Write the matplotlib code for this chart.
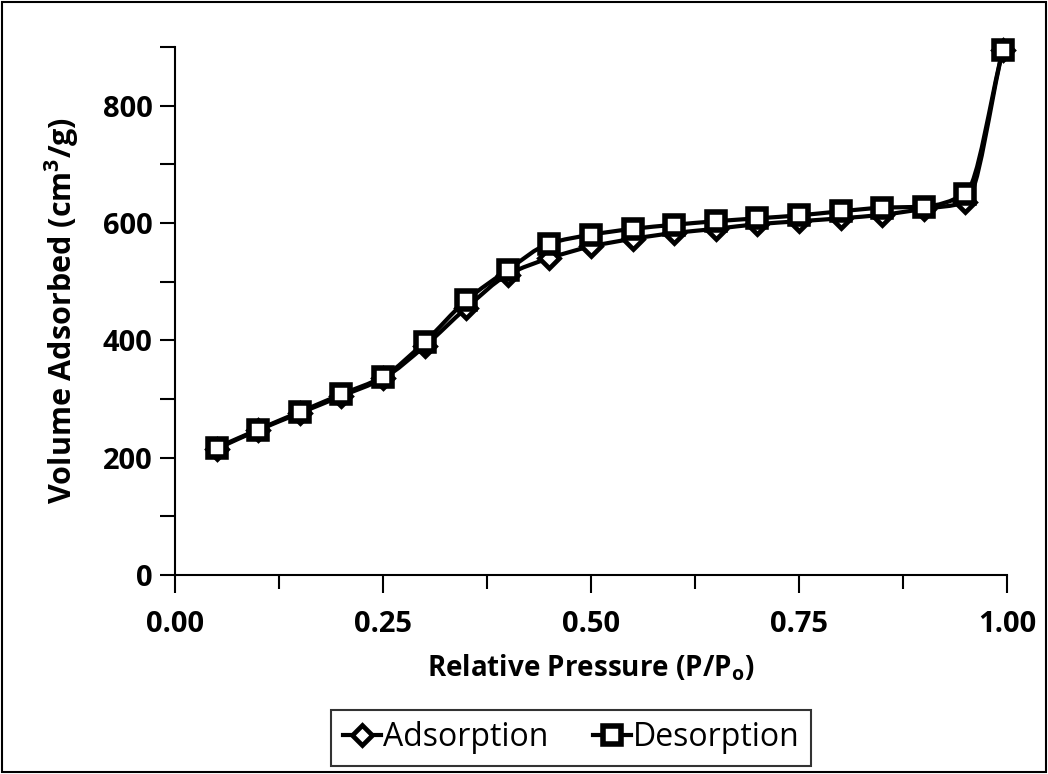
import numpy as np
import matplotlib
matplotlib.use('Agg')
import matplotlib.pyplot as plt
from matplotlib.path import Path
from matplotlib.patches import PathPatch, Rectangle
from matplotlib.lines import Line2D

plt.rcParams['font.family'] = ['Open Sans', 'DejaVu Sans']

# relative pressure
p_rel = [0.05, 0.10, 0.15, 0.20, 0.25, 0.30, 0.35, 0.40, 0.45, 0.50,
         0.55, 0.60, 0.65, 0.70, 0.75, 0.80, 0.85, 0.90, 0.95, 0.995]
adsorption = [215, 247, 276, 305, 335, 390, 455, 512, 540, 560,
              573, 583, 590, 598, 603, 608, 614, 624, 635, 895]
desorption = [217, 248, 278, 308, 338, 397, 468, 520, 565, 580,
              590, 597, 603, 608, 613, 620, 626, 628, 650, 895]


def smooth_path(x, y):
    """smooth line through the points, monotone cubic bezier pieces"""
    x = np.asarray(x, float); y = np.asarray(y, float)
    h = np.diff(x); d = np.diff(y) / h
    m = np.zeros_like(y)
    m[0] = d[0]; m[-1] = d[-1]
    for i in range(1, len(x) - 1):
        if d[i-1] * d[i] > 0:
            w1 = 2*h[i] + h[i-1]; w2 = h[i] + 2*h[i-1]
            m[i] = (w1 + w2) / (w1/d[i-1] + w2/d[i])
    verts = [(x[0], y[0])]
    codes = [Path.MOVETO]
    for i in range(len(x) - 1):
        verts += [(x[i] + h[i]/3, y[i] + m[i]*h[i]/3),
                  (x[i+1] - h[i]/3, y[i+1] - m[i+1]*h[i]/3),
                  (x[i+1], y[i+1])]
        codes += [Path.CURVE4] * 3
    return Path(verts, codes)


fig = plt.figure(figsize=(10.48, 7.74), dpi=100)
ax = fig.add_axes([175/1048, 1-575/774, (1007-175)/1048, (575-47)/774])

for yy in (adsorption, desorption):
    ax.add_patch(PathPatch(smooth_path(p_rel, yy), fc='none', ec='black', lw=3, zorder=2, clip_on=False))

ax.plot(p_rel, adsorption, ls='none', marker='D', ms=10, mfc='white', mec='black', mew=3.4, zorder=3, clip_on=False)
ax.plot(p_rel, desorption, ls='none', marker='s', ms=13, mfc='white', mec='black', mew=4, zorder=4, clip_on=False)

ax.set_xlim(0, 1)
ax.set_ylim(0, 900)
ax.set_xticks([0, 0.25, 0.5, 0.75, 1.0])
ax.set_xticks(np.arange(0.125, 1, 0.25), minor=True)
ax.set_xticklabels(['0.00', '0.25', '0.50', '0.75', '1.00'])
ax.set_yticks([0, 200, 400, 600, 800])
ax.set_yticks([100, 300, 500, 700, 900], minor=True)
ax.tick_params(axis='x', which='major', direction='out', length=13, width=1.5, labelsize=21, pad=12)
ax.tick_params(axis='x', which='minor', direction='out', length=10, width=1.5)
ax.tick_params(axis='y', which='both', direction='out', length=11, width=1.5, labelsize=21, pad=5)
for lab in ax.get_xticklabels() + ax.get_yticklabels():
    lab.set_fontweight('bold')
for s in ('top', 'right'):
    ax.spines[s].set_visible(False)
for s in ('left', 'bottom'):
    ax.spines[s].set_linewidth(1.5)

ax.set_xlabel('Relative Pressure (P/P$_\\mathregular{o}$)', fontsize=20, fontweight='bold', labelpad=10)
ax.set_ylabel('Volume Adsorbed (cm$^\\mathregular{3}$/g)', fontsize=22, fontweight='bold', labelpad=16)

handles = [Line2D([], [], color='black', lw=3, marker='D', ms=10, mfc='white', mec='black', mew=3.4),
           Line2D([], [], color='black', lw=3, marker='s', ms=13, mfc='white', mec='black', mew=4)]
leg = fig.legend(handles, ['Adsorption', 'Desorption'], loc='center', bbox_to_anchor=(571/1048, 1-738/774),
                 ncol=2, fontsize=23, frameon=True, fancybox=False, edgecolor='black',
                 handlelength=1.2, handletextpad=0.05, columnspacing=1.4, borderpad=0.35,
                 borderaxespad=0.0)
leg.get_frame().set_linewidth(1.5)

fig.patches.append(Rectangle((0.002, 0.002), 0.996, 0.996, transform=fig.transFigure,
                             fill=False, ec='black', lw=1.5))

fig.savefig('out.png', dpi=100)
